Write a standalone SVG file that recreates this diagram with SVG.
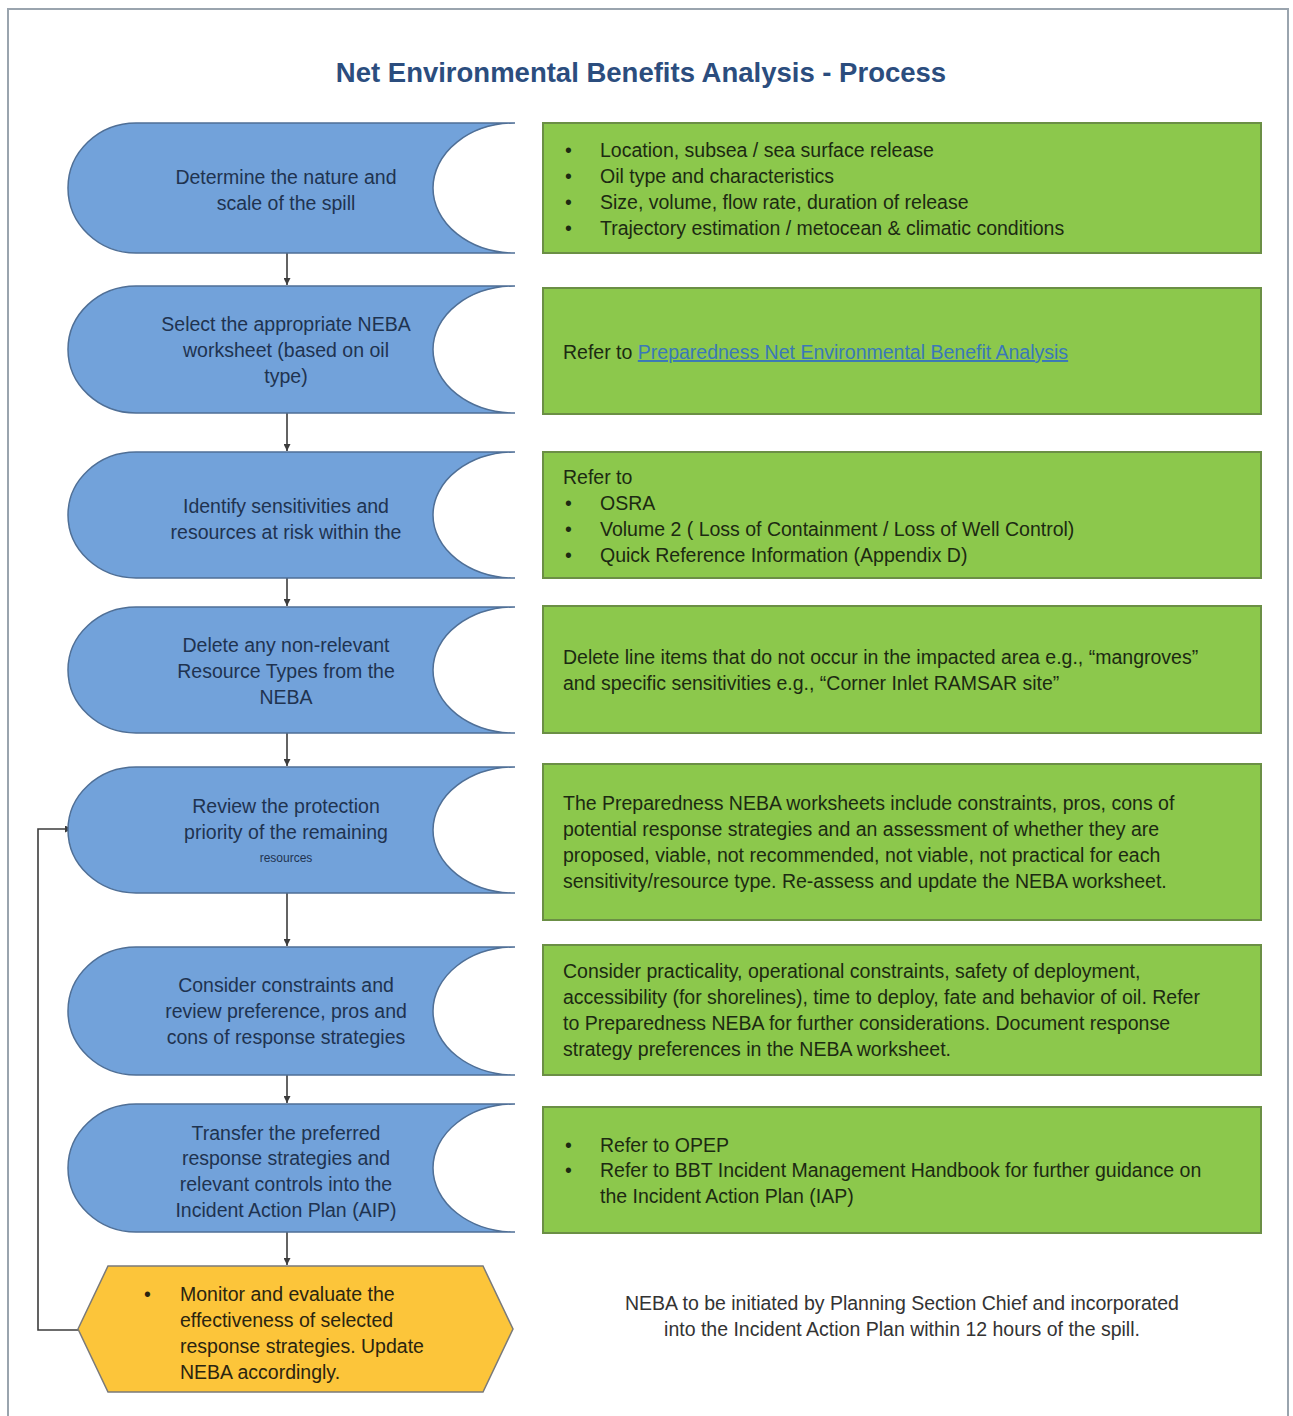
<svg xmlns="http://www.w3.org/2000/svg" width="1293" height="1416" viewBox="0 0 1293 1416">
<style>
.frame{fill:#ffffff;stroke:#9aa4ae;stroke-width:2}
.blue{fill:#72a2da;stroke:#4f6f96;stroke-width:1.5}
.green{fill:#8cc84c;stroke:#6b8f45;stroke-width:2}
.yellow{fill:#fcc53a;stroke:#7a7a7a;stroke-width:1.5}
.bt{font-family:"Liberation Sans",Arial,sans-serif;font-size:19.5px;fill:#1f3350;text-anchor:middle}
.gt{font-family:"Liberation Sans",Arial,sans-serif;font-size:19.5px;fill:#1c2a12}
.yt{font-family:"Liberation Sans",Arial,sans-serif;font-size:19.5px;fill:#2a2410}
.title{font-family:"Liberation Sans",Arial,sans-serif;font-size:27.5px;font-weight:bold;fill:#2b4d7e;text-anchor:middle}
.note{font-family:"Liberation Sans",Arial,sans-serif;font-size:19.5px;fill:#333333;text-anchor:middle}
.link{fill:#3a78b8;text-decoration:underline}
.conn{fill:none;stroke:#3c3c3c;stroke-width:1.6}
</style>
<defs>
<marker id="ah" viewBox="0 0 10 10" refX="10" refY="5" markerWidth="7" markerHeight="7" markerUnits="userSpaceOnUse" orient="auto">
<path d="M0,0 L10,5 L0,10 Z" fill="#3c3c3c"/>
</marker>
</defs>
<rect class="frame" x="8" y="9" width="1280" height="1420"/>
<text class="title" x="641" y="82">Net Environmental Benefits Analysis - Process</text>

<g id="connectors">
<line class="conn" x1="287" y1="253" x2="287" y2="285" marker-end="url(#ah)"/>
<line class="conn" x1="287" y1="413" x2="287" y2="451" marker-end="url(#ah)"/>
<line class="conn" x1="287" y1="578" x2="287" y2="606" marker-end="url(#ah)"/>
<line class="conn" x1="287" y1="733" x2="287" y2="766" marker-end="url(#ah)"/>
<line class="conn" x1="287" y1="893" x2="287" y2="946" marker-end="url(#ah)"/>
<line class="conn" x1="287" y1="1075" x2="287" y2="1103" marker-end="url(#ah)"/>
<line class="conn" x1="287" y1="1232" x2="287" y2="1265" marker-end="url(#ah)"/>
<polyline class="conn" points="79,1330 38,1330 38,829 72,829" marker-end="url(#ah)"/>
</g>

<g id="step1">
<path class="blue" d="M136,123 L515,123 A82,65 0 0 0 515,253 L136,253 A68,65 0 0 1 136,123 Z"/>
<text class="bt" x="286" y="184">Determine the nature and</text>
<text class="bt" x="286" y="210">scale of the spill</text>
</g>
<g id="step2">
<path class="blue" d="M136,286 L515,286 A82,63.5 0 0 0 515,413 L136,413 A68,63.5 0 0 1 136,286 Z"/>
<text class="bt" x="286" y="331">Select the appropriate NEBA</text>
<text class="bt" x="286" y="357">worksheet (based on oil</text>
<text class="bt" x="286" y="383">type)</text>
</g>
<g id="step3">
<path class="blue" d="M136,452 L515,452 A82,63 0 0 0 515,578 L136,578 A68,63 0 0 1 136,452 Z"/>
<text class="bt" x="286" y="513">Identify sensitivities and</text>
<text class="bt" x="286" y="539">resources at risk within the</text>
</g>
<g id="step4">
<path class="blue" d="M136,607 L515,607 A82,63 0 0 0 515,733 L136,733 A68,63 0 0 1 136,607 Z"/>
<text class="bt" x="286" y="652">Delete any non-relevant</text>
<text class="bt" x="286" y="678">Resource Types from the</text>
<text class="bt" x="286" y="704">NEBA</text>
</g>
<g id="step5">
<path class="blue" d="M136,767 L515,767 A82,63 0 0 0 515,893 L136,893 A68,63 0 0 1 136,767 Z"/>
<text class="bt" x="286" y="813">Review the protection</text>
<text class="bt" x="286" y="839">priority of the remaining</text>
<text class="bt" x="286" y="862" style="font-size:12px">resources</text>
</g>
<g id="step6">
<path class="blue" d="M136,947 L515,947 A82,64 0 0 0 515,1075 L136,1075 A68,64 0 0 1 136,947 Z"/>
<text class="bt" x="286" y="992">Consider constraints and</text>
<text class="bt" x="286" y="1018">review preference, pros and</text>
<text class="bt" x="286" y="1044">cons of response strategies</text>
</g>
<g id="step7">
<path class="blue" d="M136,1104 L515,1104 A82,64 0 0 0 515,1232 L136,1232 A68,64 0 0 1 136,1104 Z"/>
<text class="bt" x="286" y="1140">Transfer the preferred</text>
<text class="bt" x="286" y="1165">response strategies and</text>
<text class="bt" x="286" y="1191">relevant controls into the</text>
<text class="bt" x="286" y="1217">Incident Action Plan (AIP)</text>
</g>
<g id="monitor">
<polygon class="yellow" points="78,1329 108,1266 483,1266 513,1329 483,1392 108,1392"/>
<text class="yt" x="144" y="1301">•</text>
<text class="yt" x="180" y="1301">Monitor and evaluate the</text>
<text class="yt" x="180" y="1327">effectiveness of selected</text>
<text class="yt" x="180" y="1353">response strategies. Update</text>
<text class="yt" x="180" y="1379">NEBA accordingly.</text>
</g>

<g id="info1">
<rect class="green" x="543" y="123" width="718" height="130"/>
<text class="gt" x="565" y="157">•</text><text class="gt" x="600" y="157">Location, subsea / sea surface release</text>
<text class="gt" x="565" y="183">•</text><text class="gt" x="600" y="183">Oil type and characteristics</text>
<text class="gt" x="565" y="209">•</text><text class="gt" x="600" y="209">Size, volume, flow rate, duration of release</text>
<text class="gt" x="565" y="235">•</text><text class="gt" x="600" y="235">Trajectory estimation / metocean &amp; climatic conditions</text>
</g>
<g id="info2">
<rect class="green" x="543" y="288" width="718" height="126"/>
<text class="gt" x="563" y="359">Refer to <tspan class="link">Preparedness Net Environmental Benefit Analysis</tspan></text>
</g>
<g id="info3">
<rect class="green" x="543" y="452" width="718" height="126"/>
<text class="gt" x="563" y="484">Refer to</text>
<text class="gt" x="565" y="510">•</text><text class="gt" x="600" y="510">OSRA</text>
<text class="gt" x="565" y="536">•</text><text class="gt" x="600" y="536">Volume 2 ( Loss of Containment / Loss of Well Control)</text>
<text class="gt" x="565" y="562">•</text><text class="gt" x="600" y="562">Quick Reference Information (Appendix D)</text>
</g>
<g id="info4">
<rect class="green" x="543" y="606" width="718" height="127"/>
<text class="gt" x="563" y="664">Delete line items that do not occur in the impacted area e.g., “mangroves”</text>
<text class="gt" x="563" y="690">and specific sensitivities e.g., “Corner Inlet RAMSAR site”</text>
</g>
<g id="info5">
<rect class="green" x="543" y="764" width="718" height="156"/>
<text class="gt" x="563" y="810">The Preparedness NEBA worksheets include constraints, pros, cons of</text>
<text class="gt" x="563" y="836">potential response strategies and an assessment of whether they are</text>
<text class="gt" x="563" y="862">proposed, viable, not recommended, not viable, not practical for each</text>
<text class="gt" x="563" y="888">sensitivity/resource type. Re-assess and update the NEBA worksheet.</text>
</g>
<g id="info6">
<rect class="green" x="543" y="945" width="718" height="130"/>
<text class="gt" x="563" y="978">Consider practicality, operational constraints, safety of deployment,</text>
<text class="gt" x="563" y="1004">accessibility (for shorelines), time to deploy, fate and behavior of oil. Refer</text>
<text class="gt" x="563" y="1030">to Preparedness NEBA for further considerations. Document response</text>
<text class="gt" x="563" y="1056">strategy preferences in the NEBA worksheet.</text>
</g>
<g id="info7">
<rect class="green" x="543" y="1107" width="718" height="126"/>
<text class="gt" x="565" y="1152">•</text><text class="gt" x="600" y="1152">Refer to OPEP</text>
<text class="gt" x="565" y="1177">•</text><text class="gt" x="600" y="1177">Refer to BBT Incident Management Handbook for further guidance on</text>
<text class="gt" x="600" y="1203">the Incident Action Plan (IAP)</text>
</g>
<g id="note">
<text class="note" x="902" y="1310">NEBA to be initiated by Planning Section Chief and incorporated</text>
<text class="note" x="902" y="1336">into the Incident Action Plan within 12 hours of the spill.</text>
</g>
</svg>
